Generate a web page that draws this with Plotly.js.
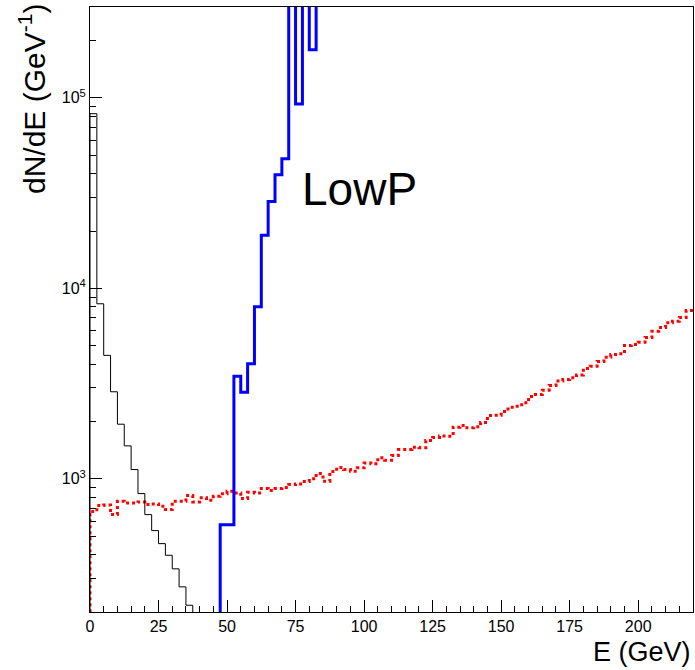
<!DOCTYPE html>
<html><head><meta charset="utf-8">
<script src="https://cdn.plot.ly/plotly-3.0.1.min.js"></script>
<style>html,body{margin:0;padding:0;background:#fff}</style>
</head><body><div id="chart" style="width:695px;height:670px"></div>
<script>
// Histogram binning (GeV)
const binWidth = 2.5;

// Black thin histogram
const blackStart = 0;
const blackValues = [82600, 8300, 4450, 2865, 1936, 1490, 1119, 837, 649, 535, 457, 397, 337, 271, 217, 150];

// Blue thick histogram (bins above the frame are off-scale)
const blueStart = 47.5;
const blueValues = [575, 575, 3460, 2850, 4020, 8000, 19000, 28600, 39500, 47900, 1000000, 93000, 1000000, 179000, 1000000];

// Red dotted histogram
const redStart = 0;
const redValues = [674, 724, 730, 650, 763, 748, 748, 757, 733, 739, 718, 690, 763, 763, 817, 757,
  795, 772, 810, 834, 861, 844, 788, 850, 844, 889, 868, 889, 900, 933, 941, 968,
  1000, 1066, 971, 1092, 1146, 1119, 1096, 1142, 1213, 1199, 1289, 1252, 1326, 1425, 1425, 1466,
  1455, 1589, 1648, 1678, 1674, 1866, 1905, 1853, 1876, 1976, 2150, 2158, 2257, 2377, 2406, 2507,
  2705, 2773, 2920, 3090, 3264, 3323, 3392, 3509, 3796, 3903, 4131, 4352, 4496, 4535, 5013, 5075,
  5218, 5523, 5960, 6233, 6597, 6726, 7035, 7654];

const xTickVals = [0, 25, 50, 75, 100, 125, 150, 175, 200];
const yTickVals = [1000, 10000, 100000];
const yTickText = ['10<sup>3</sup>', '10<sup>4</sup>', '10<sup>5</sup>'];
const yMinorVals = [200, 300, 400, 500, 600, 700, 800, 900,
  2000, 3000, 4000, 5000, 6000, 7000, 8000, 9000,
  20000, 30000, 40000, 50000, 60000, 70000, 80000, 90000, 200000, 300000];

const labelText = 'LowP';
const xTitle = 'E (GeV)';
const yTitle = 'dN/dE (GeV<sup>-1</sup>)';

function stepXY(start, values) {
  const x = [start], y = [1];
  values.forEach((v, i) => { x.push(start + i * binWidth); y.push(v); });
  x.push(start + values.length * binWidth); y.push(values[values.length - 1]);
  return {x, y};
}

const font = 'Liberation Sans, Arial, sans-serif';
const b = stepXY(blackStart, blackValues);
const u = stepXY(blueStart, blueValues);
const r = stepXY(redStart, redValues);

const traces = [
  {x: r.x, y: r.y, mode: 'lines', line: {shape: 'hv', color: '#ff0000', width: 3, dash: 'dot'}, hoverinfo: 'skip'},
  {x: b.x, y: b.y, mode: 'lines', line: {shape: 'hv', color: '#000000', width: 1}, hoverinfo: 'skip'},
  {x: u.x, y: u.y, mode: 'lines', line: {shape: 'hv', color: '#0000ff', width: 3}, hoverinfo: 'skip'}
];

const layout = {
  width: 695, height: 670,
  margin: {l: 90, r: 2, t: 7, b: 58},
  paper_bgcolor: '#fff', plot_bgcolor: '#fff',
  showlegend: false,
  font: {family: font, color: '#000'},
  xaxis: {
    range: [0, 220], showgrid: false, zeroline: false,
    showline: true, linecolor: '#000', linewidth: 1, mirror: true,
    ticks: 'inside', ticklen: 12, tickwidth: 1, tickcolor: '#000',
    tickmode: 'array', tickvals: xTickVals,
    tickfont: {family: font, size: 16, color: '#000'},
    minor: {dtick: 5, tick0: 0, ticks: 'inside', ticklen: 6, tickwidth: 1, tickcolor: '#000', showgrid: false}
  },
  yaxis: {
    type: 'log', range: [Math.log10(200), Math.log10(300000)],
    showgrid: false, zeroline: false,
    showline: true, linecolor: '#000', linewidth: 1, mirror: true,
    ticks: 'inside', ticklen: 12, tickwidth: 1, tickcolor: '#000',
    tickmode: 'array', tickvals: yTickVals, ticktext: yTickText,
    tickfont: {family: font, size: 16, color: '#000'},
    minor: {tickmode: 'array', tickvals: yMinorVals, ticks: 'inside', ticklen: 6, tickwidth: 1, tickcolor: '#000', showgrid: false}
  },
  annotations: [
    {text: labelText, xref: 'x', yref: 'paper', x: 76.5, y: 0.7, xanchor: 'left', yanchor: 'middle',
     showarrow: false, font: {family: font, size: 46, color: '#000'}},
    {text: xTitle, xref: 'paper', yref: 'paper', x: 1, y: 0, xanchor: 'right', yanchor: 'middle', yshift: -40,
     showarrow: false, font: {family: font, size: 27, color: '#000'}},
    {text: yTitle, xref: 'paper', yref: 'paper', x: 0, y: 1, xanchor: 'center', yanchor: 'top', xshift: -58, yshift: 5,
     textangle: -90, showarrow: false, font: {family: font, size: 30, color: '#000'}}
  ]
};

Plotly.newPlot('chart', traces, layout, {staticPlot: true, displayModeBar: false});
</script>
</body></html>
